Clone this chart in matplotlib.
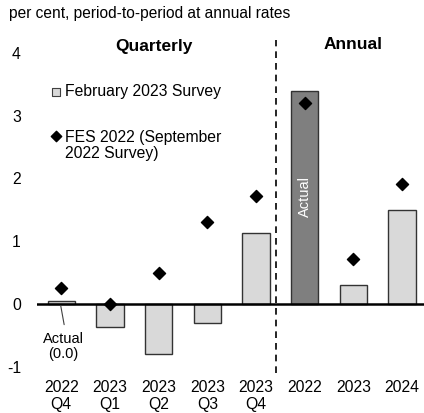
import numpy as np
import matplotlib.pyplot as plt

plt.rcParams['font.family'] = ['Liberation Sans', 'DejaVu Sans']

labels = ['2022\nQ4', '2023\nQ1', '2023\nQ2', '2023\nQ3', '2023\nQ4', '2022', '2023', '2024']
feb_2023 = [0.04, -0.36, -0.80, -0.31, 1.13, 3.40, 0.30, 1.49]
fes_2022 = [0.25, 0.0, 0.49, 1.31, 1.72, 3.21, 0.72, 1.91]
bar_colors = ['#d9d9d9'] * 5 + ['#7f7f7f', '#d9d9d9', '#d9d9d9']

x = np.arange(len(labels))

fig = plt.figure(figsize=(4.24, 4.13), dpi=100)
ax = fig.add_axes([0.087, 0.097, 0.913, 0.805])

ax.bar(x, feb_2023, width=0.56, color=bar_colors, edgecolor='#333333', linewidth=1, zorder=2)
ax.scatter(x, fes_2022, marker='D', s=38, color='black', zorder=4)
ax.axhline(0, color='black', linewidth=1.8, zorder=3)
ax.axvline(4.41, color='black', linestyle=(0, (4, 3)), linewidth=1.2, zorder=1)

ax.set_xlim(-0.5, 7.45)
ax.set_ylim(-1.1, 4.2)
ax.set_xticks(x)
ax.set_xticklabels(labels, fontsize=11.3, linespacing=1.15)
ax.set_yticks([-1, 0, 1, 2, 3, 4])
ax.set_yticklabels(['-1', '0', '1', '2', '3', '4'], fontsize=11.3)
ax.tick_params(length=0, pad=5)
ax.tick_params(axis='y', pad=11.5)
for s in ax.spines.values():
    s.set_visible(False)

fig.text(0.022, 0.967, 'per cent, period-to-period at annual rates', fontsize=11.2, va='center')
ax.text(1.9, 4.1, 'Quarterly', fontsize=12.5, fontweight='bold', ha='center', va='center')
ax.text(6.0, 4.13, 'Annual', fontsize=12.5, fontweight='bold', ha='center', va='center')

# legend drawn as text
ax.scatter([-0.1], [3.38], marker='s', s=40, color='#d9d9d9', edgecolor='#404040', linewidth=0.8)
ax.text(0.07, 3.38, 'February 2023 Survey', fontsize=11.3, va='center')
ax.scatter([-0.1], [2.67], marker='D', s=28, color='black')
ax.text(0.07, 2.52, 'FES 2022 (September\n2022 Survey)', fontsize=11.3, va='center', linespacing=1.1)

ax.text(5.0, 1.71, 'Actual', rotation=90, color='white', fontsize=10.5, ha='center', va='center')
ax.annotate('', xy=(-0.01, -0.03), xytext=(0.06, -0.33),
            arrowprops=dict(arrowstyle='-', color='#404040', lw=0.8, shrinkA=0, shrinkB=0))
ax.text(0.05, -0.68, 'Actual\n(0.0)', fontsize=10.5, ha='center', va='center', linespacing=1.15)

fig.savefig('out.png', dpi=100)
